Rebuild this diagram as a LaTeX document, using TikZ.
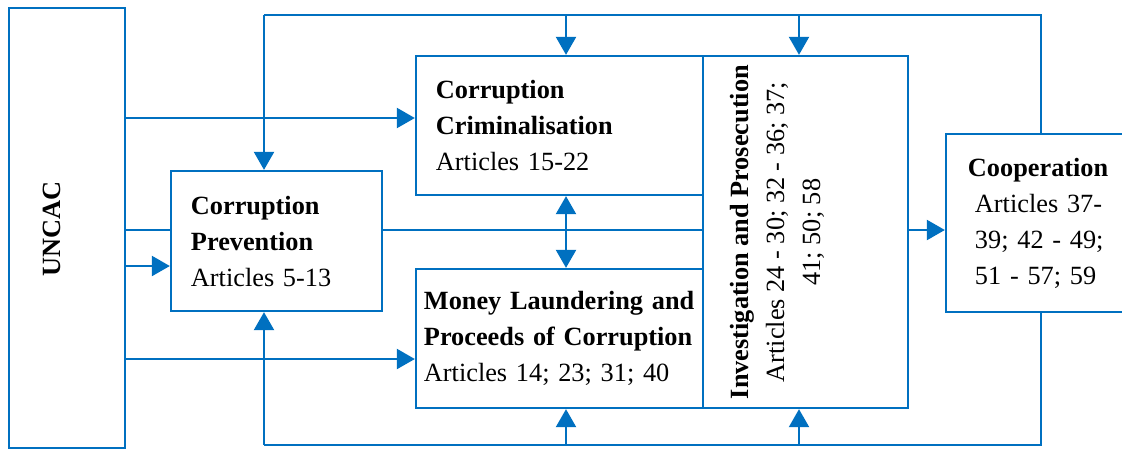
\documentclass[tikz,border=0pt]{standalone}
\usepackage{fontspec}
\setmainfont{Liberation Serif}
\usepackage{tikz}
\usetikzlibrary{arrows.meta}
\definecolor{ublue}{RGB}{0,112,192}

\begin{document}
\begin{tikzpicture}[
  x=0.025cm, y=-0.025cm,
  font=\fontsize{18.7pt}{25.6pt}\selectfont, >={Triangle[length=0.45cm, width=0.5cm]},
  box/.style={draw=ublue, fill=white, line width=1.6pt, align=left, inner ysep=0pt},
  lbl/.style={rotate=90, align=center, inner sep=0pt},
  link/.style={ublue, line width=1.6pt},
  arr/.style={link, ->},
  arrboth/.style={link, <->},
]
\useasboundingbox (0,0) rectangle (1122,450);
\node[box, minimum width=2.9cm, minimum height=11cm] (uncac) at (67,228) {};
\node[lbl] (uncactxt) at (52,229) {\textbf{UNCAC}};
\node[box, minimum width=5.275cm, minimum height=3.5cm, text width=4.275cm, inner xsep=0.5cm] (prev) at (276.5,241)
  {\textbf{Corruption}\\\textbf{Prevention}\\Articles 5-13};
\node[box, minimum width=7.175cm, minimum height=3.475cm, text width=6.175cm, inner xsep=0.5cm] (crim) at (559.5,125.5)
  {\textbf{Corruption}\\\textbf{Criminalisation}\\Articles 15-22};
\node[box, minimum width=7.175cm, minimum height=3.475cm, text width=6.775cm, inner xsep=0.2cm] (money) at (559.5,338.5)
  {\textbf{Money Laundering and}\\\textbf{Proceeds of Corruption}\\Articles 14; 23; 31; 40};
\node[box, minimum width=5.125cm, minimum height=8.8cm] (inv) at (805.5,232) {};
\node[lbl] (invtxt) at (777,232)
  {\textbf{Investigation and Prosecution}\\Articles 24 - 30; 32 - 36; 37;\\41; 50; 58};
\node[box, minimum width=4.75cm, minimum height=4.45cm, text width=3.3cm, inner xsep=0.725cm] (coop) at (1041,223)
  {\hspace*{-0.175cm}\mbox{\textbf{Cooperation}}\\Articles 37-\\39; 42 - 49;\\51 - 57; 59};

\coordinate (ta) at (264,15);
\coordinate (tb) at (566,15);
\coordinate (tc) at (799,15);
\coordinate (ba) at (264,445);
\coordinate (bb) at (566,445);
\coordinate (bc) at (799,445);

\draw[link] (coop.north) |- (ta);
\draw[arr] (ta) -- (ta |- prev.north);
\draw[arr] (tb) -- (tb |- crim.north);
\draw[arr] (tc) -- (tc |- inv.north);
\draw[link] (coop.south) |- (ba);
\draw[arr] (ba) -- (ba |- prev.south);
\draw[arr] (bb) -- (bb |- money.south);
\draw[arr] (bc) -- (bc |- inv.south);
\draw[arrboth] (tb |- crim.south) -- (tb |- money.north);

\draw[arr] (uncac.east |- 0,118) -- (crim.west |- 0,118);
\draw[link] (uncac.east |- 0,230) -- (prev.west |- 0,230);
\draw[link] (prev.east |- 0,230) -- (inv.west |- 0,230);
\draw[arr] (uncac.east |- 0,266) -- (prev.west |- 0,266);
\draw[arr] (uncac.east |- 0,359) -- (money.west |- 0,359);
\draw[arr] (inv.east |- 0,230) -- (coop.west |- 0,230);
\end{tikzpicture}
\end{document}
